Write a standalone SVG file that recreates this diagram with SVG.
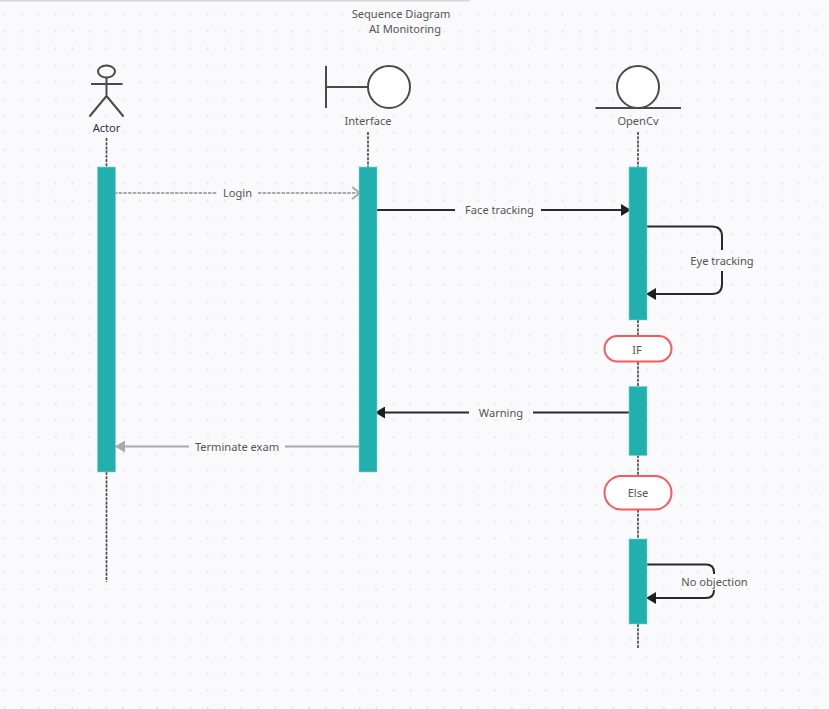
<svg xmlns="http://www.w3.org/2000/svg" width="829" height="709" viewBox="0 0 829 709">
<style>
text{font-family:"Noto Sans","Open Sans",sans-serif;font-size:11.1px;fill:#555;text-anchor:middle}
.sym{fill:none;stroke:#4a4a4a;stroke-width:2}
.circ{fill:#fff;stroke:#4a4a4a;stroke-width:2}
.life{fill:none;stroke:#444;stroke-width:1.6;stroke-dasharray:3 1.2}
.bar{fill:#22b0af;stroke:#7fd3d0;stroke-width:.6}
.pill{fill:#fff;stroke:#f8595c;stroke-width:2}
.msg{fill:none;stroke:#2a2a2a;stroke-width:2}
.gray{fill:none;stroke:#aaa;stroke-width:2.2}
.dash{stroke-dasharray:3.5 1.2}
</style>
<defs>
<pattern id="dots" x="-3.65" y="6.15" width="16.9" height="16.9" patternUnits="userSpaceOnUse"><circle cx="8.45" cy="8.45" r=".95" fill="#dfdfe3"/></pattern>
<marker id="ah" markerUnits="userSpaceOnUse" markerWidth="11" markerHeight="12" refX="10" refY="6" orient="auto"><path d="M0 0L10 6L0 12Z" fill="#1f1f1f"/></marker>
<marker id="ag" markerUnits="userSpaceOnUse" markerWidth="11" markerHeight="12" refX="10" refY="6" orient="auto"><path d="M0 0L10 6L0 12Z" fill="#aaa"/></marker>
<marker id="ao" markerUnits="userSpaceOnUse" markerWidth="11" markerHeight="14" refX="9" refY="7" orient="auto"><path d="M1 1L9 7L1 13" fill="none" stroke="#aaa" stroke-width="2"/></marker>
</defs>
<rect width="829" height="709" fill="#fafafc"/>
<rect width="829" height="709" fill="url(#dots)"/>
<rect width="470" height="1.5" fill="#d8d8da"/>
<g id="title"><text x="401" y="18">Sequence Diagram</text><text x="405" y="33">AI Monitoring</text></g>
<g id="connectors">
<path class="life" d="M106.500 138V168M106.500 472V582"/>
<path class="life" d="M368 132V168"/>
<path class="life" d="M638 132V168M638 320V387M638 455V540M638 624V648"/>
<path class="gray dash" d="M114 193H217"/>
<path class="gray dash" d="M258 193H360" marker-end="url(#ao)"/>
<path class="msg" d="M376 210H455M541 210H631" marker-end="url(#ah)"/>
<path class="msg" d="M646 226.500H712Q722 226.500 722 236.500V250M722 271V284Q722 294 712 294H646" marker-end="url(#ah)"/>
<path class="msg" d="M630 412.500H533M469 412.500H375" marker-end="url(#ah)"/>
<path class="gray" d="M360 446.500H285M189 446.500H115" marker-end="url(#ag)"/>
<path class="msg" d="M646 564.500H706Q714 564.500 714 572.500V574M714 591V590Q714 598 706 598H646" marker-end="url(#ah)"/>
</g>
<g id="actor"><ellipse class="sym" cx="106.500" cy="71.500" rx="8.500" ry="6"/><path class="sym" d="M106.500 77.500V96M91 84H122.500M106.500 96L89.500 116.500M106.500 96L123.500 116.500"/><text x="106.500" y="132" style="fill:#2b2b45">Actor</text></g>
<g id="interface"><path class="sym" d="M326 66V108M326 87H368"/><circle class="circ" cx="389" cy="87" r="21"/><text x="368" y="125">Interface</text></g>
<g id="opencv"><circle class="circ" cx="638" cy="87" r="21"/><path class="sym" d="M595.500 108H681"/><text x="638" y="125">OpenCv</text></g>
<g id="bar-actor"><rect class="bar" x="97.500" y="167" width="18" height="305"/></g>
<g id="bar-interface"><rect class="bar" x="359" y="167" width="18" height="305"/></g>
<g id="bar-opencv-1"><rect class="bar" x="629" y="167" width="18" height="153"/></g>
<g id="bar-opencv-2"><rect class="bar" x="629" y="386.500" width="18" height="69"/></g>
<g id="bar-opencv-3"><rect class="bar" x="629" y="539" width="18" height="85"/></g>
<g id="if"><rect class="pill" x="604.500" y="336" width="67" height="25.500" rx="12.750"/><text x="637" y="354">IF</text></g>
<g id="else"><rect class="pill" x="604.500" y="476" width="67" height="33.500" rx="16.750"/><text x="638" y="497">Else</text></g>
<g id="labels">
<text x="237.500" y="197">Login</text>
<text x="499.500" y="214">Face tracking</text>
<text x="722" y="265">Eye tracking</text>
<text x="501" y="417">Warning</text>
<text x="237" y="450.500">Terminate exam</text>
<text x="714.500" y="586">No objection</text>
</g>
</svg>
